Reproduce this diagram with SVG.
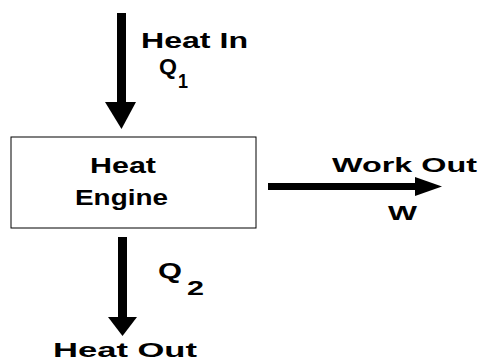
<svg xmlns="http://www.w3.org/2000/svg" width="479" height="361" viewBox="0 0 479 361">
<style>
text { font-family: "Liberation Sans", Arial, sans-serif; font-weight: bold; fill: #000; }
.arr { fill: #000; stroke: none; }
</style>
<rect width="479" height="361" fill="#fff"/>
<g id="engine">
<rect x="11" y="137" width="245" height="91" fill="#fff" stroke="#000" stroke-width="1"/>
<text x="90" y="173" font-size="22" textLength="66" lengthAdjust="spacingAndGlyphs">Heat</text>
<text x="75" y="205" font-size="22" textLength="93" lengthAdjust="spacingAndGlyphs">Engine</text>
</g>
<g id="connectors">
<g id="heat-in">
<rect class="arr" x="117" y="13" width="9" height="90"/>
<polygon class="arr" points="105,102 136,102 121.5,129"/>
<text x="141" y="48" font-size="22" textLength="107" lengthAdjust="spacingAndGlyphs">Heat  In</text>
<text x="159" y="74" font-size="22" textLength="18" lengthAdjust="spacingAndGlyphs">Q</text>
<text x="178" y="88" font-size="20" textLength="10" lengthAdjust="spacingAndGlyphs">1</text>
</g>
<g id="work-out">
<rect class="arr" x="268" y="183" width="148" height="7"/>
<polygon class="arr" points="415,177 415,196 442,186.5"/>
<text x="332" y="172" font-size="20" textLength="145" lengthAdjust="spacingAndGlyphs">Work  Out</text>
<text x="388" y="220" font-size="20" textLength="29" lengthAdjust="spacingAndGlyphs">W</text>
</g>
<g id="heat-out">
<rect class="arr" x="118" y="237" width="9" height="81"/>
<polygon class="arr" points="108,317 137,317 122.5,336"/>
<text x="158" y="278" font-size="22" textLength="24" lengthAdjust="spacingAndGlyphs">Q</text>
<text x="187" y="295" font-size="20" textLength="17" lengthAdjust="spacingAndGlyphs">2</text>
<text x="53" y="357" font-size="21" textLength="144" lengthAdjust="spacingAndGlyphs">Heat  Out</text>
</g>
</g>
</svg>
